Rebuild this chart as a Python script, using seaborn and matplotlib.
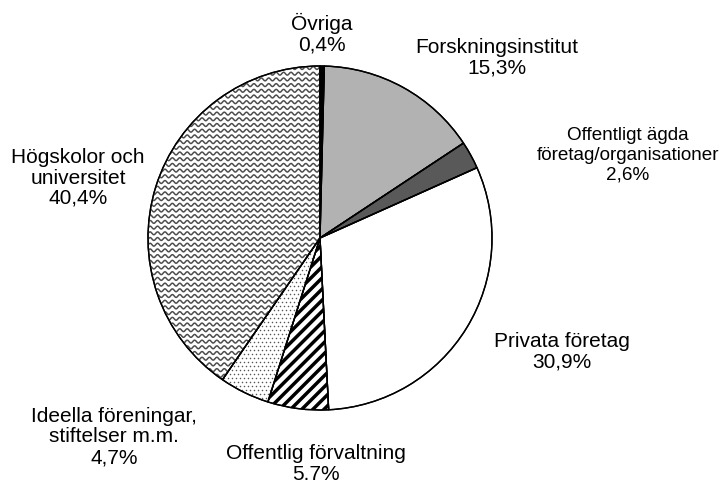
import numpy as np
import matplotlib.pyplot as plt
from matplotlib.patches import Wedge
from matplotlib.collections import LineCollection
import seaborn as sns

sns.set_style("white")
plt.rcParams['font.family'] = ['Liberation Sans', 'DejaVu Sans']
plt.rcParams['text.color'] = 'black'
plt.rcParams['hatch.linewidth'] = 2.5

categories = ["Övriga", "Forskningsinstitut", "Offentligt ägda\nföretag/organisationer",
              "Privata företag", "Offentlig förvaltning",
              "Ideella föreningar,\nstiftelser m.m.", "Högskolor och\nuniversitet"]
shares = [0.4, 15.3, 2.6, 30.9, 5.7, 4.7, 40.4]
pct_labels = ["0,4%", "15,3%", "2,6%", "30,9%", "5.7%", "4,7%", "40,4%"]

colors = ["#000000", "#b2b2b2", "#595959", "#ffffff", "#ffffff", "#ffffff", "#ffffff"]
hatches = [None, None, None, None, "///", None, None]

fig = plt.figure(figsize=(7.2, 4.88), dpi=100)
ax = fig.add_axes([0, 0, 1, 1])

cx, cy, r = 320, 488 - 238, 172
wedges, _ = ax.pie(shares, colors=colors, startangle=90, counterclock=False,
                   center=(cx, cy), radius=r,
                   wedgeprops=dict(edgecolor="black", linewidth=1.0))
for w, h in zip(wedges, hatches):
    if h:
        w.set_hatch(h)

ax.set_xlim(0, 720)
ax.set_ylim(0, 488)
ax.set_aspect('equal')
ax.axis('off')

# wavy fill for Högskolor och universitet
xs = np.linspace(cx - r, cx + r, 3000)
segs = []
for y0 in np.arange(cy - r, cy + r, 5.7):
    segs.append(np.column_stack([xs, y0 + 1.4 * np.sin(xs / 1.18)]))
lc = LineCollection(segs, colors="#4d4d4d", linewidths=1.1, zorder=3)
ax.add_collection(lc)
lc.set_clip_path(wedges[-1])

# dotted fill for Ideella föreningar
gx, gy = np.meshgrid(np.arange(cx - r, cx + r, 4.0), np.arange(cy - r, cy + r, 4.0))
gx = gx + (np.arange(gx.shape[0])[:, None] % 2) * 2.0
dots = ax.scatter(gx.ravel(), gy.ravel(), s=1.2, c="#555555", linewidths=0, zorder=3)
dots.set_clip_path(wedges[5])

# redraw outlines on top of the pattern fills
for w in wedges:
    ax.add_patch(Wedge(w.center, w.r, w.theta1, w.theta2, fill=False,
                       edgecolor="black", linewidth=1.0, zorder=4))

label_pos = [(322, 34), (497, 58), (628, 155), (562, 352), (316, 464), (114, 437), (78, 178)]
label_size = [15, 15, 13.6, 15, 15, 15, 15]
for name, pct, (x, y), fs in zip(categories, pct_labels, label_pos, label_size):
    ax.text(x, 488 - y, name + "\n" + pct, ha="center", va="center",
            fontsize=fs, linespacing=1.1 * 15 / fs, color="black")

fig.savefig("out.png", dpi=100)
